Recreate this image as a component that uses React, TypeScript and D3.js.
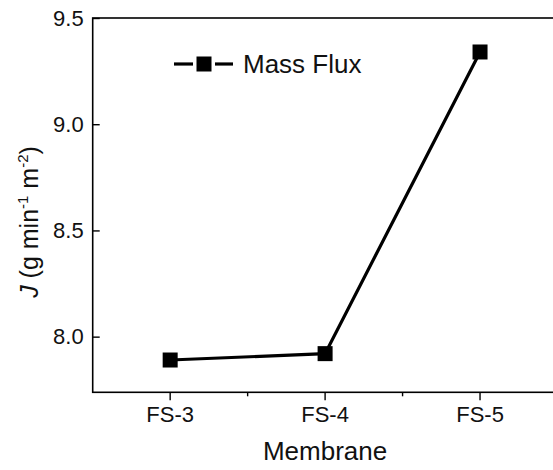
import { useEffect, useRef } from "react";
import * as d3 from "d3";

const membranes = ["FS-3", "FS-4", "FS-5"];
const massFlux = [7.89, 7.92, 9.34];
const yTicks = [8.0, 8.5, 9.0, 9.5];
const yDomain = [7.738, 9.5];
const seriesName = "Mass Flux";
const xTitle = "Membrane";

const FONT = "'Liberation Sans', Arial, Helvetica, sans-serif";

export default function App() {
  const ref = useRef<SVGSVGElement | null>(null);

  useEffect(() => {
    const svg = d3.select(ref.current);
    svg.selectAll("*").remove();

    const width = 553;
    const height = 470;
    const left = 92.7;
    const right = 557.5; // right spine sits just past the visible edge
    const top = 18;
    const bottom = 392.3;

    svg.attr("width", width).attr("height", height).attr("viewBox", `0 0 ${width} ${height}`);

    const x = d3.scaleBand<string>().domain(membranes).range([left, right]).padding(0);
    const cx = (c: string) => (x(c) as number) + x.bandwidth() / 2;
    const y = d3.scaleLinear().domain(yDomain).range([bottom, top]);

    const g = svg.append("g").attr("font-family", FONT);

    // frame
    g.append("rect")
      .attr("x", left)
      .attr("y", top)
      .attr("width", right - left)
      .attr("height", bottom - top)
      .attr("fill", "none")
      .attr("stroke", "#000")
      .attr("stroke-width", 1.6);

    // y axis, ticks point inward
    const yAxis = g
      .append("g")
      .attr("transform", `translate(${left},0)`)
      .call(
        d3
          .axisLeft(y)
          .tickValues(yTicks)
          .tickSize(-7)
          .tickPadding(9)
          .tickFormat(d3.format(".1f"))
      );
    yAxis.select(".domain").remove();
    yAxis.selectAll(".tick line").attr("stroke", "#000").attr("stroke-width", 1.4);
    yAxis.selectAll(".tick text").attr("font-size", 22).attr("fill", "#111").attr("font-family", FONT);

    // x axis, ticks point outward
    const xAxis = g
      .append("g")
      .attr("transform", `translate(0,${bottom})`)
      .call(d3.axisBottom(x).tickSize(8).tickPadding(6));
    xAxis.select(".domain").remove();
    xAxis.selectAll(".tick line").attr("stroke", "#000").attr("stroke-width", 1.4);
    xAxis.selectAll(".tick text").attr("font-size", 22).attr("fill", "#111").attr("font-family", FONT);

    // minor ticks on band edges
    g.append("g")
      .selectAll("line")
      .data(membranes.slice(1))
      .enter()
      .append("line")
      .attr("x1", (d: string) => x(d) as number)
      .attr("x2", (d: string) => x(d) as number)
      .attr("y1", bottom)
      .attr("y2", bottom + 4)
      .attr("stroke", "#000")
      .attr("stroke-width", 1.4);

    // axis titles
    g.append("text")
      .attr("x", (left + cx(membranes[2]) + cx(membranes[0]) - left) / 2)
      .attr("y", 460)
      .attr("text-anchor", "middle")
      .attr("font-size", 26)
      .attr("fill", "#111")
      .text(xTitle);

    const yt = g
      .append("text")
      .attr("transform", `translate(38,222) rotate(-90)`)
      .attr("text-anchor", "middle")
      .attr("font-size", 25)
      .attr("fill", "#111");
    yt.append("tspan").attr("font-style", "italic").text("J");
    yt.append("tspan").text(" (g min");
    yt.append("tspan").attr("font-size", 15).attr("dy", -10).text("-1");
    yt.append("tspan").attr("dy", 10).text(" m");
    yt.append("tspan").attr("font-size", 15).attr("dy", -10).text("-2");
    yt.append("tspan").attr("dy", 10).text(")");

    // series
    const line = d3
      .line<number>()
      .x((_d: number, i: number) => cx(membranes[i]))
      .y((d: number) => y(d));

    g.append("path")
      .datum(massFlux)
      .attr("d", line)
      .attr("fill", "none")
      .attr("stroke", "#000")
      .attr("stroke-width", 3.2);

    const ms = 15;
    g.append("g")
      .selectAll("rect")
      .data(massFlux)
      .enter()
      .append("rect")
      .attr("x", (_d: number, i: number) => cx(membranes[i]) - ms / 2)
      .attr("y", (d: number) => y(d) - ms / 2)
      .attr("width", ms)
      .attr("height", ms)
      .attr("fill", "#000");

    // legend
    const lg = g.append("g").attr("transform", "translate(174,64)");
    lg.append("line").attr("x1", 0).attr("x2", 19).attr("stroke", "#000").attr("stroke-width", 3.2);
    lg.append("line").attr("x1", 41).attr("x2", 59).attr("stroke", "#000").attr("stroke-width", 3.2);
    lg.append("rect").attr("x", 30 - ms / 2).attr("y", -ms / 2).attr("width", ms).attr("height", ms).attr("fill", "#000");
    lg.append("text")
      .attr("x", 69)
      .attr("y", 9.3)
      .attr("font-size", 26)
      .attr("fill", "#111")
      .text(seriesName);
  }, []);

  return (
    <div style={{ position: "absolute", left: 0, top: 0, width: 553, height: 470, overflow: "hidden" }}>
      <svg ref={ref} style={{ display: "block" }} />
    </div>
  );
}
